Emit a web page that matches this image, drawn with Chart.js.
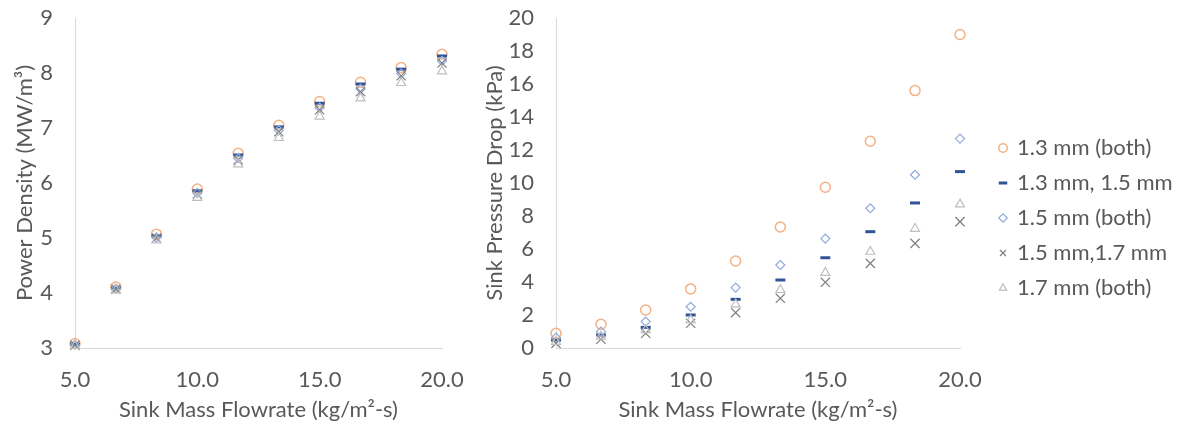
<!DOCTYPE html>
<html>
<head>
<meta charset="utf-8">
<title>Power density and sink pressure drop</title>
<style>
  body { margin: 0; background: #fff; }
  #wrap { position: relative; width: 1179px; height: 425px; overflow: hidden; }
  canvas { position: absolute; top: 0; }
</style>
</head>
<body>
<div id="wrap">
  <canvas id="chartPower" width="470" height="425" style="left:0"></canvas>
  <canvas id="chartDrop" width="709" height="425" style="left:470px"></canvas>
</div>
<script src="https://cdn.jsdelivr.net/npm/chart.js@4.4.6/dist/chart.umd.min.js"></script>
<script>
// sink mass flowrate (kg/m2-s)
const flowrate = [5.0, 6.67, 8.33, 10.0, 11.67, 13.33, 15.0, 16.67, 18.33, 20.0]

const seriesNames = ["1.3 mm (both)", "1.3 mm, 1.5 mm", "1.5 mm (both)", "1.5 mm,1.7 mm", "1.7 mm (both)"]

// power density (MW/m3)
const power13both = [3.08, 4.11, 5.07, 5.89, 6.54, 7.05, 7.48, 7.83, 8.10, 8.34]
const power1315 = [3.07, 4.09, 5.04, 5.86, 6.51, 7.02, 7.45, 7.80, 8.07, 8.31]
const power15both = [3.06, 4.08, 5.01, 5.82, 6.45, 6.96, 7.37, 7.71, 7.99, 8.22]
const power1517 = [3.05, 4.07, 5.00, 5.80, 6.42, 6.93, 7.33, 7.66, 7.95, 8.18]
const power17both = [3.04, 4.05, 4.96, 5.73, 6.34, 6.82, 7.21, 7.54, 7.82, 8.03]

// sink pressure drop (kPa)
const drop13both = [0.89, 1.44, 2.30, 3.58, 5.27, 7.33, 9.74, 12.53, 15.60, 19.00]
const drop1315 = [0.48, 0.79, 1.25, 2.00, 2.95, 4.12, 5.47, 7.05, 8.79, 10.69]
const drop15both = [0.63, 0.99, 1.60, 2.50, 3.66, 5.03, 6.63, 8.47, 10.50, 12.69]
const drop1517 = [0.28, 0.53, 0.89, 1.50, 2.14, 3.01, 3.98, 5.13, 6.34, 7.66]
const drop17both = [0.38, 0.70, 1.09, 1.70, 2.65, 3.52, 4.56, 5.84, 7.23, 8.71]

const xTicks = [5, 10, 15, 20]

const TEXT = "#595959"
const AXIS = "#d9d9d9"

Chart.defaults.font.family = "Lato, 'Open Sans', sans-serif"
Chart.defaults.font.size = 22
Chart.defaults.color = TEXT
Chart.defaults.animation = false

const markers = [
  { pointStyle: "circle", pointRadius: 5, borderColor: "#f4b183", borderWidth: 1.5, order: 5 },
  { pointStyle: "line", pointRadius: 5, borderColor: "#2f5597", borderWidth: 3, order: 4 },
  { pointStyle: "rectRot", pointRadius: 4.5, borderColor: "#8faadc", borderWidth: 1.2, order: 3 },
  { pointStyle: "crossRot", pointRadius: 6.5, borderColor: "#7f7f7f", borderWidth: 1.2, order: 2 },
  { pointStyle: "triangle", pointRadius: 5.2, borderColor: "#bfbfbf", borderWidth: 1.2, order: 1 },
]

function buildDatasets(seriesList) {
  return seriesList.map((values, i) => ({
    label: seriesNames[i],
    data: values.map((v, j) => ({ x: flowrate[j], y: v })),
    showLine: false,
    clip: false,
    backgroundColor: "rgba(0,0,0,0)",
    pointHoverRadius: markers[i].pointRadius,
    ...markers[i],
  }))
}

function xScale() {
  return {
    type: "linear",
    min: xTicks[0],
    max: xTicks[xTicks.length - 1],
    afterBuildTicks: s => { s.ticks = xTicks.map(v => ({ value: v })) },
    ticks: { padding: 19, callback: v => v.toFixed(1) },
    grid: { display: false, drawTicks: false },
    border: { color: AXIS, width: 1 },
    title: { display: true, text: "Sink Mass Flowrate (kg/m²-s)", padding: { top: 0, bottom: 2 } },
    afterFit: s => {
      s.height = 77
      s.paddingLeft = 0
      s.paddingRight = 0
    },
  }
}

function yScale(min, max, step, text, width) {
  return {
    min: min,
    max: max,
    ticks: { stepSize: step, padding: 22 },
    grid: { display: false, drawTicks: false },
    border: { color: AXIS, width: 1 },
    title: { display: true, text: text, padding: { top: 12, bottom: 0 } },
    afterFit: s => {
      s.width = width
      s.paddingTop = 0
      s.paddingBottom = 0
    },
  }
}

// moves the legend box to where the original one sits
const legendPlace = {
  id: "legendPlace",
  afterLayout(chart, args, opts) {
    const lg = chart.legend
    if (!lg) return
    const dx = opts.left - lg.left
    const dy = opts.top - lg.top
    lg.left += dx
    lg.right += dx
    lg.top += dy
    lg.bottom += dy
  },
}

// nudge layout padding until the plot area sits on the target right edge
function fitRight(chart, right) {
  for (let k = 0; k < 5; k++) {
    const dr = chart.chartArea.right - right
    if (Math.abs(dr) < 0.5) break
    chart.options.layout.padding.right += dr
    chart.update()
  }
}

const powerChart = new Chart(document.getElementById("chartPower"), {
  type: "scatter",
  data: { datasets: buildDatasets([power13both, power1315, power15both, power1517, power17both]) },
  options: {
    responsive: false,
    layout: { padding: { top: 18, right: 28, bottom: 0, left: 0 } },
    plugins: { legend: { display: false }, tooltip: { enabled: false } },
    scales: {
      x: xScale(),
      y: yScale(3, 9, 1, "Power Density (MW/m³)", 75),
    },
  },
})
fitRight(powerChart, 442)

const dropChart = new Chart(document.getElementById("chartDrop"), {
  type: "scatter",
  data: { datasets: buildDatasets([drop13both, drop1315, drop15both, drop1517, drop17both]) },
  plugins: [legendPlace],
  options: {
    responsive: false,
    layout: { padding: { top: 18, right: 0, bottom: 0, left: 0 } },
    plugins: {
      tooltip: { enabled: false },
      legend: {
        position: "right",
        align: "start",
        maxWidth: 215,
        labels: {
          usePointStyle: true,
          boxWidth: 6,
          boxHeight: 6,
          padding: 13,
          color: TEXT,
          sort: (a, b) => a.datasetIndex - b.datasetIndex,
        },
      },
      legendPlace: { left: 530 - 13, top: 124 },
    },
    scales: {
      x: xScale(),
      y: yScale(0, 20, 2, "Sink Pressure Drop (kPa)", 86),
    },
  },
})
fitRight(dropChart, 490)
</script>
</body>
</html>
